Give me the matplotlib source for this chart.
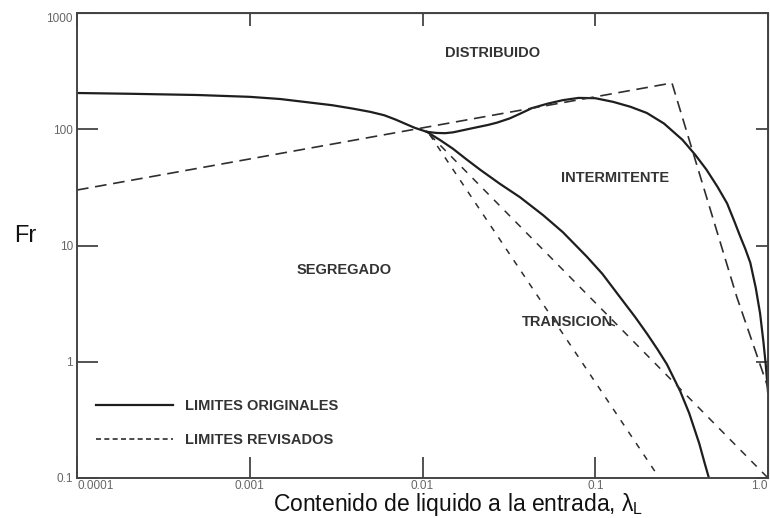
import matplotlib
matplotlib.use('Agg')
import matplotlib.pyplot as plt

plt.rcParams['font.family'] = ['Liberation Sans', 'DejaVu Sans']
plt.rcParams['mathtext.fontset'] = 'custom'
plt.rcParams['mathtext.rm'] = 'Liberation Sans'
plt.rcParams['mathtext.it'] = 'Liberation Sans'

# limites originales (curvas solidas)
seg_x = [1e-4, 2e-4, 5e-4, 1e-3, 1.5e-3, 2e-3, 3e-3, 4e-3, 5e-3, 6e-3, 7e-3,
         8e-3, 9e-3, 0.0106]
seg_fr = [205, 202, 197, 190, 182, 173, 161, 150, 141, 132, 121,
          111, 103, 95]

trans_x = [0.0106, 0.0126, 0.015, 0.018, 0.0215, 0.028, 0.0367, 0.05, 0.065,
           0.0895, 0.11, 0.139, 0.17, 0.2, 0.23, 0.26, 0.31, 0.35, 0.40, 0.43, 0.455]
trans_fr = [95, 81, 68, 55, 45, 34, 26, 18.2, 13.0,
            8.0, 5.7, 3.6, 2.43, 1.73, 1.27, 0.95, 0.56, 0.36, 0.198, 0.134, 0.1]

int_x = [0.0106, 0.012, 0.0135, 0.015, 0.0171, 0.02, 0.024, 0.027, 0.032, 0.0367,
         0.043, 0.053, 0.065, 0.08, 0.1, 0.127, 0.16, 0.199, 0.25, 0.32, 0.38,
         0.44, 0.51, 0.58, 0.64, 0.69, 0.74, 0.79, 0.85, 0.90, 0.94, 0.97, 1.0]
int_fr = [95, 93, 92.5, 94, 98, 103, 109, 114, 124, 136,
          152, 166, 178, 186, 185, 172, 156, 138, 112, 81, 60,
          45, 32, 23, 16, 12, 9.3, 7.1, 4.3, 2.6, 1.5, 0.95, 0.55]

# limites revisados (rectas discontinuas)
rev_top_x = [1e-4, 0.278, 0.40, 0.66, 1.0]
rev_top_fr = [30, 250, 42, 3.6, 0.6]
rev_a_x = [0.011, 0.235]
rev_a_fr = [90, 0.1]
rev_b_x = [0.011, 1.0]
rev_b_fr = [90, 0.1]

x_ticks = [1e-4, 1e-3, 1e-2, 1e-1, 1.0]
x_labels = ['0.0001', '0.001', '0.01', '0.1', '1.0']
y_ticks = [0.1, 1, 10, 100, 1000]
y_labels = ['0.1', '1', '10', '100', '1000']

# etiquetas de regiones: (texto, x, Fr)
regions = [('DISTRIBUIDO', 0.0256, 453),
           ('INTERMITENTE', 0.13, 38),
           ('SEGREGADO', 0.0035, 6.1),
           ('TRANSICION', 0.0695, 2.2)]

solid_c = '#1e1e1e'
dash_c = '#2e2e2e'
text_c = '#333333'

fig = plt.figure(figsize=(7.7, 5.18), dpi=100)
ax = fig.add_axes([77/770, 1 - 478/518, (768 - 77)/770, (478 - 13)/518])
ax.set_xscale('log')
ax.set_yscale('log')
ax.set_xlim(1e-4, 1.0)
ax.set_ylim(0.1, 1000)

ax.plot(seg_x, seg_fr, color=solid_c, lw=1.6, solid_joinstyle='round')
ax.plot(trans_x, trans_fr, color=solid_c, lw=1.6, solid_joinstyle='round')
ax.plot(int_x, int_fr, color=solid_c, lw=1.6, solid_joinstyle='round')

ax.plot(rev_top_x, rev_top_fr, color=dash_c, lw=1.2, dashes=(7, 4))
ax.plot(rev_a_x, rev_a_fr, color=dash_c, lw=1.1, dashes=(4, 5))
ax.plot(rev_b_x, rev_b_fr, color=dash_c, lw=1.1, dashes=(5, 5))

for name, xx, yy in regions:
    ax.text(xx, yy, name, ha='center', va='center', fontsize=10.5,
            fontweight='bold', color=text_c)
# linea guia de TRANSICION
ax.plot([0.118, 0.129], [2.15, 2.05], color=dash_c, lw=1.0)

# leyenda
h1, = ax.plot([], [], color=solid_c, lw=1.6)
h2, = ax.plot([], [], color=dash_c, lw=1.2, dashes=(3, 2))
leg = ax.legend([h1, h2], ['LIMITES ORIGINALES', 'LIMITES REVISADOS'],
                loc='upper left', bbox_to_anchor=(96/770, 1 - 399/518),
                bbox_transform=fig.transFigure, frameon=False,
                handlelength=5.3, handletextpad=0.8, labelspacing=1.4,
                borderpad=0, borderaxespad=0,
                prop={'size': 10.5, 'weight': 'bold'})
for t in leg.get_texts():
    t.set_color(text_c)

# ejes y marcas
for sp in ax.spines.values():
    sp.set_color('#444444')
    sp.set_linewidth(1.4)
ax.minorticks_off()
ax.set_xticks(x_ticks)
ax.set_xticklabels(x_labels)
ax.set_yticks(y_ticks)
ax.set_yticklabels(y_labels)
ax.tick_params(which='major', direction='in', length=15, width=1.3,
               color='#444444', labelsize=8.5, labelcolor='#666666')
ax.tick_params(axis='x', pad=1.5)
ax.tick_params(axis='y', pad=3)
xl = ax.get_xticklabels()
xl[0].set_ha('left')
xl[-1].set_ha('right')
yl = ax.get_yticklabels()
yl[-1].set_va('top')

top = ax.secondary_xaxis('top')
top.set_xticks(x_ticks)
top.set_xticklabels([])
top.tick_params(direction='in', length=9, width=1.3, color='#444444')
top.minorticks_off()
right = ax.secondary_yaxis('right')
right.set_yticks(y_ticks)
right.set_yticklabels([])
right.tick_params(direction='in', length=9, width=1.3, color='#444444')
right.minorticks_off()

fig.text(458/770, 1 - 505/518, 'Contenido de liquido a la entrada, $\\lambda_L$',
         ha='center', va='center', fontsize=16.5, color='#111111')
fig.text(25/770, 1 - 236/518, 'Fr', ha='center', va='center', fontsize=17,
         color='#111111')

fig.savefig('out.png', dpi=100)
